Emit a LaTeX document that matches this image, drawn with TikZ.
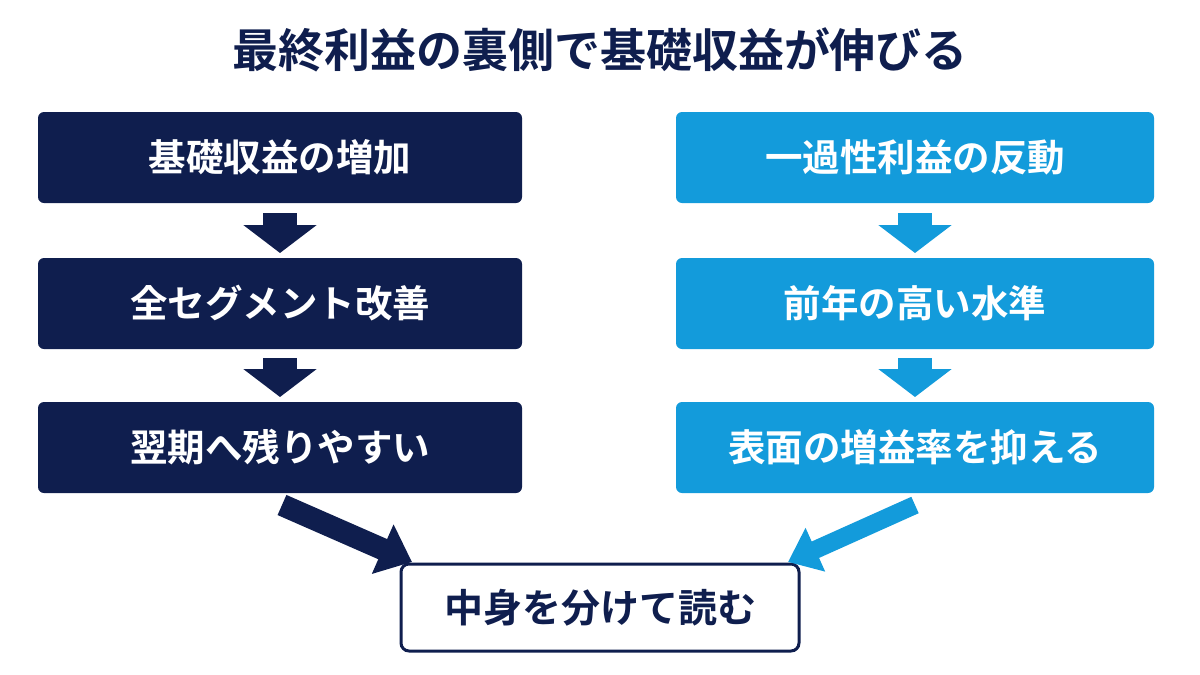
\documentclass[tikz,border=0pt]{standalone}
\usepackage{fontspec}
\setmainfont{Noto Sans CJK JP}[BoldFont={Noto Sans CJK JP Bold}]
\usetikzlibrary{arrows.meta}
\definecolor{navy}{HTML}{0F1E4E}
\definecolor{sky}{HTML}{139BDB}
\begin{document}
\begin{tikzpicture}[x=1pt,y=-1pt,
 box/.style={rounded corners=6pt,minimum height=91pt,text=white,font=\fontsize{37.5}{42}\selectfont\bfseries},
 L/.style={box,fill=navy,minimum width=484pt},
 R/.style={box,fill=sky,minimum width=478pt},
 blk/.style={line width=34pt,-{Triangle[width=72pt,length=28pt]}}]
\useasboundingbox (0,0) rectangle (1200,675);
\node[font=\fontsize{46}{50}\selectfont\bfseries,text=navy] (t) at (600,50) {最終利益の裏側で基礎収益が伸びる};
\node[L] (l1) at (280,157.5) {基礎収益の増加};
\node[L] (l2) at (280,303.5) {全セグメント改善};
\node[L] (l3) at (280,447.5) {翌期へ残りやすい};
\node[R] (r1) at (915,157.5) {一過性利益の反動};
\node[R] (r2) at (915,303.5) {前年の高い水準};
\node[R] (r3) at (915,447.5) {表面の増益率を抑える};
\node[rounded corners=8pt,draw=navy,line width=3pt,fill=white,minimum width=398pt,minimum height=87pt,text=navy,font=\fontsize{39}{44}\selectfont\bfseries] (b) at (600,607.5) {中身を分けて読む};
\coordinate (a1) at (280,213); \coordinate (a2) at (280,253);
\coordinate (a3) at (280,358); \coordinate (a4) at (280,397);
\coordinate (c1) at (915,213); \coordinate (c2) at (915,253);
\coordinate (c3) at (915,358); \coordinate (c4) at (915,397);
\draw[blk,draw=navy,fill=navy] (a1) -- (a2);
\draw[blk,draw=navy,fill=navy] (a3) -- (a4);
\draw[blk,draw=sky,fill=sky] (c1) -- (c2);
\draw[blk,draw=sky,fill=sky] (c3) -- (c4);
\coordinate (d1) at (282,505); \coordinate (d2) at (412,562);
\coordinate (e1) at (915,505); \coordinate (e2) at (788,562);
\draw[navy,line width=22pt,-{Triangle[width=52pt,length=32pt]}] (d1) -- (d2);
\draw[sky,line width=18pt,-{Triangle[width=46pt,length=30pt]}] (e1) -- (e2);
\end{tikzpicture}
\end{document}
